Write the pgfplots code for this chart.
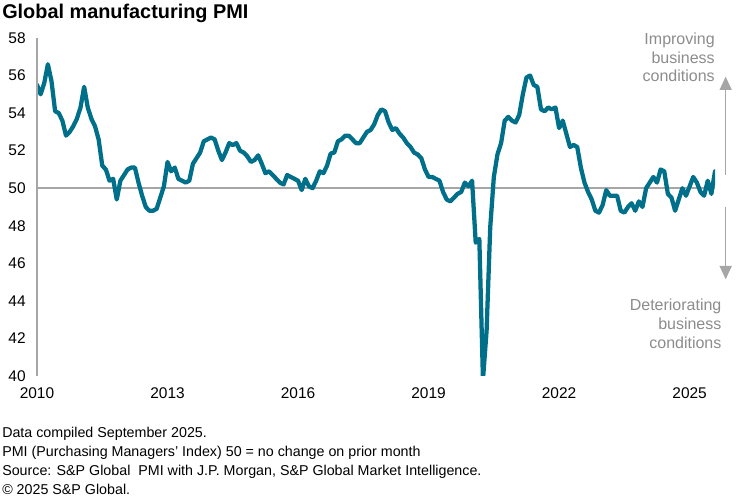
\documentclass[border=0pt]{standalone}
\usepackage{fontspec}
\setmainfont{Liberation Sans}
\usepackage{pgfplots}
\pgfplotsset{compat=1.18}
\usetikzlibrary{arrows.meta}

\definecolor{pmiteal}{HTML}{00708A}
\definecolor{axisgray}{HTML}{A6A6A6}
\definecolor{notegray}{HTML}{8C8C8C}

\begin{document}
\begin{tikzpicture}
% page frame: 740 x 500 px at 0.75pt per px
\path[use as bounding box] (-27.75pt,-93pt) rectangle (527.25pt,282pt);
\begin{axis}[
  at={(0pt,0pt)}, anchor=south west,
  scale only axis, width=508.5pt, height=253.5pt,
  xmin=0, xmax=187, ymin=40, ymax=58,
  axis line style={draw=none},
  major tick length=0pt,
  xtick={0,36,72,108,144,180},
  xticklabels={2010,2013,2016,2019,2022,2025},
  ytick={40,42,...,58},
  tick label style={font=\fontsize{11.6}{13}\selectfont, text=black},
  /pgf/number format/assume math mode=true,
  xticklabel style={yshift=-5pt},
  yticklabel style={xshift=-5pt},
]
\addplot[axisgray, line width=1.5pt, forget plot] coordinates {(0,50) (187,50)};
\addplot[pmiteal, line width=3.2pt, line join=round, line cap=round] coordinates {
(0,55.5) (1,55.0) (2,55.6) (3,56.6) (4,55.7) (5,54.1) (6,54.0) (7,53.6) (8,52.8) (9,53.0) (10,53.3) (11,53.7)
(12,54.3) (13,55.4) (14,54.3) (15,53.7) (16,53.3) (17,52.6) (18,51.2) (19,51.0) (20,50.4) (21,50.5) (22,49.4) (23,50.4)
(24,50.7) (25,51.0) (26,51.1) (27,51.1) (28,50.3) (29,49.6) (30,49.0) (31,48.8) (32,48.8) (33,48.9) (34,49.5) (35,50.1)
(36,51.4) (37,50.9) (38,51.1) (39,50.5) (40,50.4) (41,50.3) (42,50.4) (43,51.3) (44,51.6) (45,51.9) (46,52.5) (47,52.6)
(48,52.7) (49,52.6) (50,52.0) (51,51.5) (52,51.9) (53,52.4) (54,52.3) (55,52.4) (56,52.0) (57,51.9) (58,51.7) (59,51.4)
(60,51.5) (61,51.75) (62,51.3) (63,50.8) (64,50.9) (65,50.7) (66,50.5) (67,50.3) (68,50.2) (69,50.7) (70,50.6) (71,50.5)
(72,50.4) (73,49.9) (74,50.5) (75,50.1) (76,50.0) (77,50.4) (78,50.9) (79,50.8) (80,51.2) (81,51.85) (82,51.9) (83,52.5)
(84,52.6) (85,52.8) (86,52.8) (87,52.6) (88,52.4) (89,52.4) (90,52.7) (91,53.0) (92,53.1) (93,53.4) (94,53.9) (95,54.2)
(96,54.1) (97,53.5) (98,53.1) (99,53.2) (100,52.9) (101,52.7) (102,52.4) (103,52.2) (104,51.9) (105,51.8) (106,51.6) (107,51.0)
(108,50.6) (109,50.6) (110,50.5) (111,50.4) (112,49.8) (113,49.4) (114,49.3) (115,49.5) (116,49.7) (117,49.8) (118,50.3) (119,50.1)
(120,50.4) (121,47.1) (122,47.3) (123,39.8) (124,42.4) (125,47.9) (126,50.6) (127,51.8) (128,52.4) (129,53.6) (130,53.8) (131,53.6)
(132,53.5) (133,53.9) (134,55.0) (135,55.9) (136,56.0) (137,55.5) (138,55.4) (139,54.2) (140,54.1) (141,54.3) (142,54.2) (143,54.3)
(144,53.2) (145,53.6) (146,52.9) (147,52.2) (148,52.3) (149,52.2) (150,51.1) (151,50.3) (152,49.8) (153,49.4) (154,48.8) (155,48.7)
(156,49.1) (157,49.9) (158,49.6) (159,49.6) (160,49.6) (161,48.8) (162,48.7) (163,49.0) (164,49.2) (165,48.8) (166,49.3) (167,49.0)
(168,50.0) (169,50.3) (170,50.6) (171,50.3) (172,51.0) (173,50.9) (174,49.7) (175,49.5) (176,48.8) (177,49.4) (178,50.0) (179,49.6)
(180,50.1) (181,50.6) (182,50.3) (183,49.8) (184,49.6) (185,50.4) (186,49.7) (187,50.9)
};
\end{axis}
% y axis line
\draw[axisgray, line width=1.5pt] (0pt,0pt) -- (0pt,253.5pt);
% title
\node[anchor=base west, inner sep=0pt, font=\bfseries\fontsize{14.9}{17}\selectfont] at (-26.25pt,267.75pt) {Global manufacturing PMI};
% annotations
\draw[axisgray, line width=1pt, -{Triangle[width=9pt,length=10pt]}] (516.5pt,150.75pt) -- (516.5pt,224.5pt);
\draw[axisgray, line width=1pt, -{Triangle[width=9pt,length=10pt]}] (516.5pt,127pt) -- (516.5pt,72.5pt);
\begin{scope}[every node/.style={anchor=base east, inner sep=0pt, text=notegray, font=\fontsize{12}{14}\selectfont}]
\node at (508.5pt,248.25pt) {Improving};
\node at (508.5pt,234pt) {business};
\node at (508.5pt,220.5pt) {conditions};
\node at (513.5pt,48.75pt) {Deteriorating};
\node at (513.5pt,34.5pt) {business};
\node at (513.5pt,20.25pt) {conditions};
\end{scope}
% footer
\begin{scope}[every node/.style={anchor=base west, inner sep=0pt, font=\fontsize{10.7}{12}\selectfont}]
\node at (-26.25pt,-46.5pt) {Data compiled September 2025.};
\node at (-26.25pt,-60.75pt) {PMI (Purchasing Managers' Index) 50 = no change on prior month};
\node at (-26.25pt,-75pt) {Source: S\&P Global\ \ PMI with J.P. Morgan, S\&P Global Market Intelligence.};
\node at (-26.25pt,-89.25pt) {© 2025 S\&P Global.};
\end{scope}
\end{tikzpicture}
\end{document}
